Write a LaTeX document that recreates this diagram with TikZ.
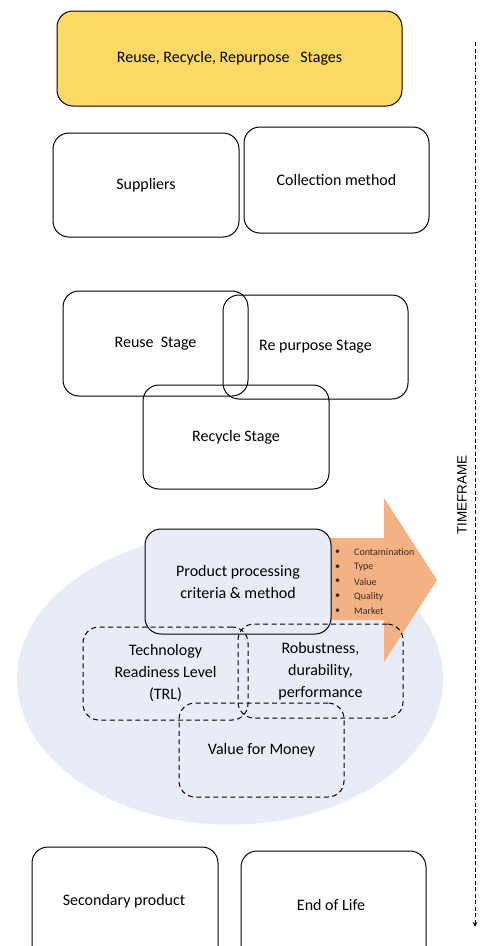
\documentclass[tikz,border=0pt]{standalone}
\usepackage{fontspec}
\setmainfont{Carlito}
\newfontfamily\labelsans{Liberation Sans}
\usetikzlibrary{arrows.meta,shapes.geometric}

\definecolor{stagegold}{HTML}{FFD966}
\definecolor{cloudblue}{HTML}{E8ECF7}
\definecolor{peach}{HTML}{F4B183}
\definecolor{bulletink}{HTML}{3B2A1C}

\tikzset{
  stagebox/.style={draw=black, line width=1pt, rounded corners=16pt,
    align=center, inner sep=0pt,
    font=\fontsize{16}{22}\selectfont},
  critbox/.style={draw=black, line width=1pt, rounded corners=16pt,
    dash pattern=on 5pt off 3.5pt, align=center, inner sep=0pt,
    font=\fontsize{16}{22}\selectfont},
  bulletitem/.style={anchor=west, inner sep=0pt, text=bulletink,
    font=\fontsize{10}{12}\selectfont},
  timeline/.style={line width=0.9pt, dash pattern=on 4pt off 2.5pt,
    -{Stealth[length=5pt,width=4.5pt]}}
}

\begin{document}
\begin{tikzpicture}[x=1pt, y=-1pt]
  \clip (0,0) rectangle (483,946);
  \fill[white] (0,0) rectangle (483,946);

  % heading
  \node[stagebox, fill=stagegold, minimum width=345pt, minimum height=95pt]
    (head) at (229.5,58.5) {Reuse, Recycle, Repurpose\ \ \ Stages};

  % inputs
  \node[stagebox, minimum width=186pt, minimum height=104pt]
    (sup) at (146,185) {Suppliers};
  \node[stagebox, minimum width=185pt, minimum height=106pt]
    (col) at (336.5,180) {Collection method};

  % the three stages
  \node[stagebox, minimum width=185pt, minimum height=105pt]
    (reuse) at (155.5,343.5) {Reuse\ \ Stage};
  \node[stagebox, minimum width=185pt, minimum height=104pt]
    (repurp) at (315.5,347) {Re purpose Stage};
  \node[stagebox, minimum width=186pt, minimum height=104pt]
    (recyc) at (236,437) {Recycle Stage};

  % assessment area
  \node[draw=none, fill=cloudblue, ellipse, minimum width=426pt,
    minimum height=291pt, inner sep=0pt] (cloud) at (230,679) {};

  % criteria arrow
  \fill[peach] (300,538) -- (384,538) -- (384,498) -- (437,580)
    -- (384,662) -- (384,620) -- (300,620) -- cycle;

  \node[stagebox, fill=cloudblue, minimum width=186pt, minimum height=105pt]
    (proc) at (238,581.5) {Product processing\\criteria \& method};

  \foreach \t [count=\i from 0] in {Contamination, Type, Value, Quality, Market}{
    \node[bulletitem] (bdot\i) at (335,552+14.8*\i) {•};
    \node[bulletitem] (bitem\i) at (354,552+14.8*\i) {\t};
  }

  % criteria
  \node[critbox, minimum width=165pt, minimum height=93pt]
    (trl) at (165.5,673.5) {Technology\\Readiness Level\\(TRL)};
  \node[critbox, minimum width=165pt, minimum height=94pt]
    (rob) at (320.5,671) {Robustness,\\durability,\\performance};
  \node[critbox, minimum width=165pt, minimum height=94pt]
    (vfm) at (261.5,750) {Value for Money};

  % outcomes
  \node[stagebox, minimum width=186pt, minimum height=120pt]
    (sec) at (125,907) {};
  \node[font=\fontsize{16}{22}\selectfont] (seclbl) at (124,901) {Secondary product};
  \node[stagebox, minimum width=185pt, minimum height=120pt]
    (eol) at (333.5,911) {};
  \node[font=\fontsize{16}{22}\selectfont] (eollbl) at (331,905) {End of Life};

  % time axis
  \coordinate (tstart) at (475,42);
  \coordinate (tend) at (475,927);
  \draw[timeline] (tstart) -- (tend);
  \node[rotate=90, inner sep=0pt, font=\labelsans\fontsize{13.5}{16}\selectfont]
    (tf) at (462,495) {TIMEFRAME};
\end{tikzpicture}
\end{document}
